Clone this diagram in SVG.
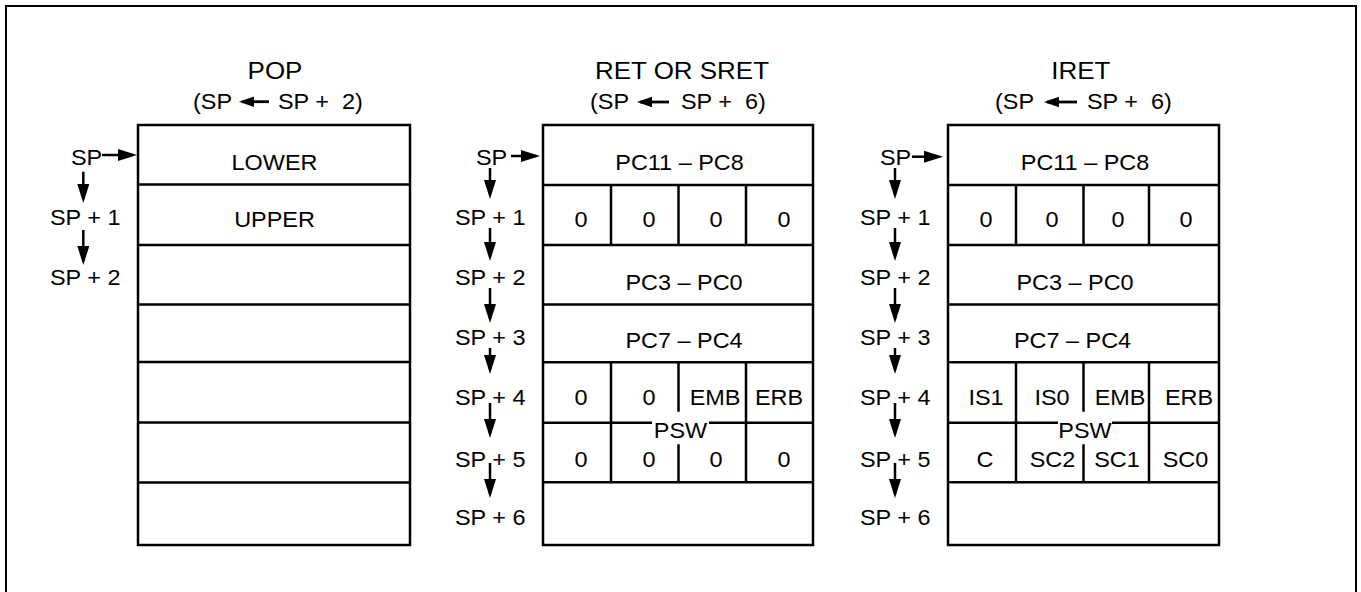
<svg xmlns="http://www.w3.org/2000/svg" width="1361" height="592" viewBox="0 0 1361 592">
<style>
  text { font-family: "Liberation Sans", Arial, sans-serif; font-size: 22px; fill: #000; white-space: pre; }
  .title { font-size: 24.5px; }
  .tbl { fill: none; stroke: #000; stroke-width: 2.5; }
  .ln { stroke: #000; stroke-width: 2.5; fill: none; }
  .ar { stroke: #000; stroke-width: 2.5; fill: none; marker-end: url(#ah); }
  .ars { stroke: #000; stroke-width: 2.8; fill: none; marker-end: url(#ahs); }
  .frame { fill: none; stroke: #000; stroke-width: 2; }
</style>
<defs>
  <marker id="ah" markerUnits="userSpaceOnUse" markerWidth="20" markerHeight="13" refX="15" refY="6" orient="auto">
    <path d="M0,0 L19,6 L0,12 z" fill="#000"/>
  </marker>
  <marker id="ahs" markerUnits="userSpaceOnUse" markerWidth="18" markerHeight="12" refX="12" refY="5.25" orient="auto">
    <path d="M0,0 L15,5.25 L0,10.5 z" fill="#000"/>
  </marker>
</defs>
<rect width="1361" height="592" fill="#fff"/>
<path class="frame" d="M6,592 V6 H1356 V592"/>

<g id="pop">
  <text class="title" text-anchor="middle" transform="translate(275 79) scale(1.06 1)">POP</text>
  <text transform="translate(193 109) scale(1.065 1)">(SP</text>
  <text xml:space="preserve" transform="translate(278 109) scale(1.065 1)">SP +  2)</text>
  <rect class="tbl" x="138" y="125" width="272" height="420"/>
  <path class="ln" d="M138,184.5 H410 M138,245 H410 M138,304.5 H410 M138,362 H410 M138,422.5 H410 M138,482.5 H410"/>
  <text text-anchor="middle" transform="translate(274.5 170) scale(1.065 1)">LOWER</text>
  <text text-anchor="middle" transform="translate(274.5 226.5) scale(1.065 1)">UPPER</text>
  <text transform="translate(71 165) scale(1.065 1)">SP</text>
  <text transform="translate(50 225) scale(1.065 1)">SP + 1</text>
  <text transform="translate(50 285) scale(1.065 1)">SP + 2</text>
</g>

<g id="ret">
  <text class="title" text-anchor="middle" transform="translate(682 79) scale(1.06 1)">RET OR SRET</text>
  <text transform="translate(590 109) scale(1.065 1)">(SP</text>
  <text xml:space="preserve" transform="translate(681 109) scale(1.065 1)">SP +  6)</text>
  <rect class="tbl" x="543" y="125" width="270" height="420"/>
  <path class="ln" d="M543,185 H813 M543,245 H813 M543,304.5 H813 M543,362.3 H813 M543,482.3 H813 M543,422.7 H652 M709,422.7 H813"/>
  <path class="ln" d="M611,185 V245 M678.5,185 V245 M746,185 V245 M611,362.3 V482.3 M746,362.3 V482.3 M678.5,362.3 V411.7 M678.5,444.3 V482.3"/>
  <text text-anchor="middle" transform="translate(679.5 170) scale(1.065 1)">PC11 – PC8</text>
  <text text-anchor="middle" transform="translate(581 227) scale(1.065 1)">0</text>
  <text text-anchor="middle" transform="translate(649 227) scale(1.065 1)">0</text>
  <text text-anchor="middle" transform="translate(716 227) scale(1.065 1)">0</text>
  <text text-anchor="middle" transform="translate(784 227) scale(1.065 1)">0</text>
  <text text-anchor="middle" transform="translate(684 290) scale(1.065 1)">PC3 – PC0</text>
  <text text-anchor="middle" transform="translate(684 348) scale(1.065 1)">PC7 – PC4</text>
  <text text-anchor="middle" transform="translate(581 405) scale(1.065 1)">0</text>
  <text text-anchor="middle" transform="translate(649 405) scale(1.065 1)">0</text>
  <text text-anchor="middle" transform="translate(715 405) scale(1.065 1)">EMB</text>
  <text text-anchor="middle" transform="translate(779 405) scale(1.065 1)">ERB</text>
  <text text-anchor="middle" transform="translate(680.5 437.5) scale(1.065 1)">PSW</text>
  <text text-anchor="middle" transform="translate(581 466.7) scale(1.065 1)">0</text>
  <text text-anchor="middle" transform="translate(649 466.7) scale(1.065 1)">0</text>
  <text text-anchor="middle" transform="translate(716 466.7) scale(1.065 1)">0</text>
  <text text-anchor="middle" transform="translate(784 466.7) scale(1.065 1)">0</text>
  <text transform="translate(476 165) scale(1.065 1)">SP</text>
  <text transform="translate(455 224.5) scale(1.065 1)">SP + 1</text>
  <text transform="translate(455 285) scale(1.065 1)">SP + 2</text>
  <text transform="translate(455 345) scale(1.065 1)">SP + 3</text>
  <text transform="translate(455 405) scale(1.065 1)">SP + 4</text>
  <text transform="translate(455 466.7) scale(1.065 1)">SP + 5</text>
  <text transform="translate(455 525) scale(1.065 1)">SP + 6</text>
</g>

<g id="iret">
  <text class="title" text-anchor="middle" transform="translate(1080.8 79) scale(1.06 1)">IRET</text>
  <text transform="translate(995 109) scale(1.065 1)">(SP</text>
  <text xml:space="preserve" transform="translate(1087 109) scale(1.065 1)">SP +  6)</text>
  <rect class="tbl" x="948" y="125" width="271" height="420"/>
  <path class="ln" d="M948,185 H1219 M948,245 H1219 M948,304.5 H1219 M948,362.3 H1219 M948,482.3 H1219 M948,422.7 H1058 M1112,422.7 H1219"/>
  <path class="ln" d="M1016,185 V245 M1083.5,185 V245 M1149,185 V245 M1016,362.3 V482.3 M1149,362.3 V482.3 M1083.5,362.3 V411.7 M1083.5,444.3 V482.3"/>
  <text text-anchor="middle" transform="translate(1085 170) scale(1.065 1)">PC11 – PC8</text>
  <text text-anchor="middle" transform="translate(986 227) scale(1.065 1)">0</text>
  <text text-anchor="middle" transform="translate(1052 227) scale(1.065 1)">0</text>
  <text text-anchor="middle" transform="translate(1118 227) scale(1.065 1)">0</text>
  <text text-anchor="middle" transform="translate(1186 227) scale(1.065 1)">0</text>
  <text text-anchor="middle" transform="translate(1075 290) scale(1.065 1)">PC3 – PC0</text>
  <text text-anchor="middle" transform="translate(1072.5 348) scale(1.065 1)">PC7 – PC4</text>
  <text text-anchor="middle" transform="translate(986 405) scale(1.065 1)">IS1</text>
  <text text-anchor="middle" transform="translate(1052 405) scale(1.065 1)">IS0</text>
  <text text-anchor="middle" transform="translate(1120 405) scale(1.065 1)">EMB</text>
  <text text-anchor="middle" transform="translate(1189 405) scale(1.065 1)">ERB</text>
  <text text-anchor="middle" transform="translate(1085 437.5) scale(1.065 1)">PSW</text>
  <text text-anchor="middle" transform="translate(985 466.7) scale(1.065 1)">C</text>
  <text text-anchor="middle" transform="translate(1052.5 466.7) scale(1.065 1)">SC2</text>
  <text text-anchor="middle" transform="translate(1117 466.7) scale(1.065 1)">SC1</text>
  <text text-anchor="middle" transform="translate(1185.5 466.7) scale(1.065 1)">SC0</text>
  <text transform="translate(880 165) scale(1.065 1)">SP</text>
  <text transform="translate(860 224.5) scale(1.065 1)">SP + 1</text>
  <text transform="translate(860 285) scale(1.065 1)">SP + 2</text>
  <text transform="translate(860 345) scale(1.065 1)">SP + 3</text>
  <text transform="translate(860 405) scale(1.065 1)">SP + 4</text>
  <text transform="translate(860 466.7) scale(1.065 1)">SP + 5</text>
  <text transform="translate(860 525) scale(1.065 1)">SP + 6</text>
</g>

<g id="connectors">
  <path class="ars" d="M269,101.7 H242"/>
  <path class="ars" d="M669,102 H640"/>
  <path class="ars" d="M1077,102 H1047"/>
  <path class="ar" d="M102,155 H133"/>
  <path class="ar" d="M83.3,171.7 V199"/>
  <path class="ar" d="M83.3,230 V261"/>
  <path class="ar" d="M511,156 H536"/>
  <path class="ar" d="M490,168 V195"/>
  <path class="ar" d="M490,228 V257"/>
  <path class="ar" d="M490,288 V319"/>
  <path class="ar" d="M490,348 V370"/>
  <path class="ar" d="M490,403 V434"/>
  <path class="ar" d="M490,463 V494"/>
  <path class="ar" d="M912,156.7 H939"/>
  <path class="ar" d="M895,168 V195"/>
  <path class="ar" d="M895,228 V257"/>
  <path class="ar" d="M895,288 V319"/>
  <path class="ar" d="M895,348 V370"/>
  <path class="ar" d="M895,403 V434"/>
  <path class="ar" d="M895,463 V494"/>
</g>
</svg>
